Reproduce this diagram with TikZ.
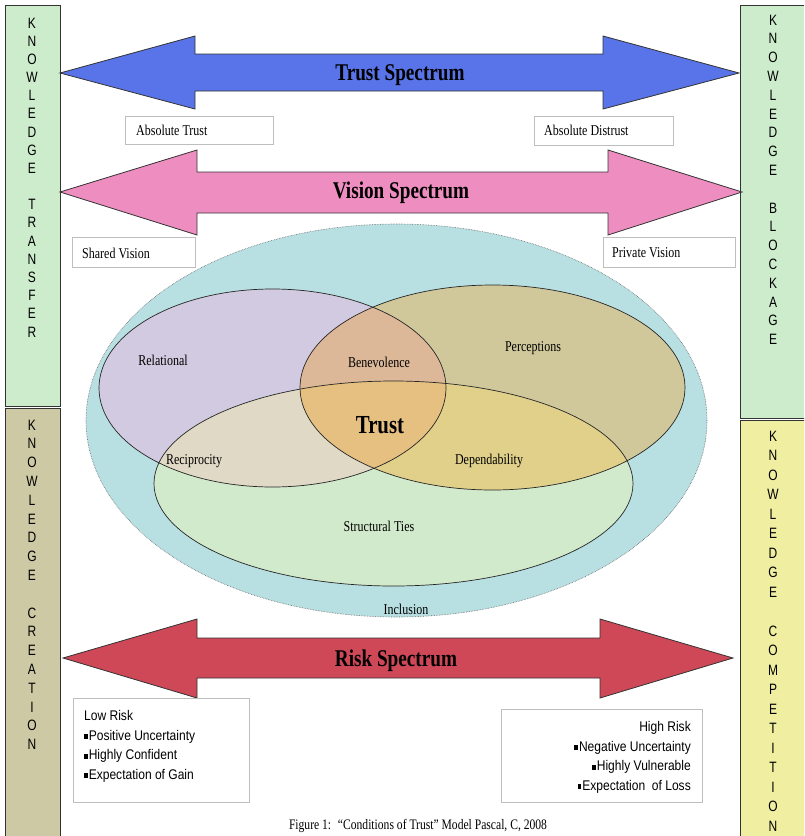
\documentclass[tikz,border=0pt]{standalone}
\usepackage{fontspec}
\newfontfamily\serifc[FakeStretch=0.8]{Liberation Serif}
\newfontfamily\sansc[FakeStretch=0.8]{Liberation Sans}
\newfontfamily\sansr[FakeStretch=0.86]{Liberation Sans}
\definecolor{bargreen}{RGB}{204,236,204}
\definecolor{barkhaki}{RGB}{204,201,164}
\definecolor{baryellow}{RGB}{240,238,160}
\definecolor{arrblue}{RGB}{88,116,232}
\definecolor{arrpink}{RGB}{238,142,192}
\definecolor{arrred}{RGB}{206,72,88}
\definecolor{teal}{RGB}{184,224,226}
\definecolor{relc}{RGB}{210,202,224}
\definecolor{perc}{RGB}{208,200,154}
\definecolor{strc}{RGB}{210,234,204}
\definecolor{benc}{RGB}{221,184,152}
\definecolor{recc}{RGB}{223,217,197}
\definecolor{depc}{RGB}{224,208,138}
\definecolor{trustc}{RGB}{230,192,128}
\definecolor{boxgray}{RGB}{190,190,190}
\tikzset{
  sidebar/.style={draw=black!80, line width=0.8pt},
  sideletters/.style={anchor=north, inner sep=0pt, align=center, font=\sansc\fontsize{15}{#1}\selectfont},
  spectrum/.style={draw=black!80, line width=0.8pt},
  spectext/.style={font=\serifc\bfseries\fontsize{24}{26}\selectfont, inner sep=0pt},
  labelbox/.style={draw=boxgray, line width=0.6pt, fill=white},
  boxtext/.style={font=\serifc\fontsize{15}{18}\selectfont, inner sep=0pt, anchor=west},
  venntext/.style={font=\serifc\fontsize{15}{18}\selectfont, inner sep=0pt},
  riskbox/.style={draw=boxgray, line width=0.6pt, fill=white},
  risktext/.style={font=\sansr\fontsize{14}{19.7}\selectfont, inner sep=0pt},
  vennline/.style={draw=black!85, line width=0.7pt}
}
\newcommand{\blt}{\rule[1pt]{3.6pt}{5pt}\kern1pt}
\begin{document}
\begin{tikzpicture}[x=1pt,y=-1pt]
\useasboundingbox (0,0) rectangle (804,836);
\clip (0,0) rectangle (804,836);
\fill[white] (0,0) rectangle (804,836);

% side bars
\draw[sidebar, fill=bargreen] (5,5) rectangle (60,406);
\draw[sidebar, fill=barkhaki] (5,408) rectangle (60,845);
\draw[sidebar, fill=bargreen] (740,5) rectangle (815,418);
\draw[sidebar, fill=baryellow] (740,420) rectangle (815,845);

\node[sideletters=18.17] (kt) at (32,17.6) {K\\N\\O\\W\\L\\E\\D\\G\\E\\\mbox{}\\T\\R\\A\\N\\S\\F\\E\\R};
\node[sideletters=18.8] (kc) at (32,419.6) {K\\N\\O\\W\\L\\E\\D\\G\\E\\\mbox{}\\C\\R\\E\\A\\T\\I\\O\\N};
\node[sideletters=18.8] (kb) at (773,14.6) {K\\N\\O\\W\\L\\E\\D\\G\\E\\\mbox{}\\B\\L\\O\\C\\K\\A\\G\\E};
\node[sideletters=19.5] (kx) at (773,430.6) {K\\N\\O\\W\\L\\E\\D\\G\\E\\\mbox{}\\C\\O\\M\\P\\E\\T\\I\\T\\I\\O\\N};

% spectrum arrows
\draw[spectrum, fill=arrblue] (60,73) -- (195,36) -- (195,54) -- (603,54) -- (603,36) -- (739,73) -- (603,109) -- (603,91) -- (195,91) -- (195,109) -- cycle;
\node[spectext] (ts) at (400,75) {Trust Spectrum};
\draw[spectrum, fill=arrpink] (60,192) -- (197,150) -- (197,172) -- (608,172) -- (608,150) -- (742,192) -- (608,235) -- (608,213) -- (197,213) -- (197,235) -- cycle;
\node[spectext] (vs) at (401,193) {Vision Spectrum};
\draw[spectrum, fill=arrred] (63,658) -- (197,619) -- (197,638) -- (600,638) -- (600,619) -- (733,658) -- (600,698) -- (600,678) -- (197,678) -- (197,698) -- cycle;
\node[spectext] (rs) at (396,661) {Risk Spectrum};

% label boxes
\draw[labelbox] (125,116) rectangle (273,144);
\node[boxtext] (at) at (136,130) {Absolute Trust};
\draw[labelbox] (534,116) rectangle (673,145);
\node[boxtext] (ad) at (544,130) {Absolute Distrust};
\draw[labelbox] (72,237) rectangle (195,267);
\node[boxtext] (sv) at (82,253) {Shared Vision};
\draw[labelbox] (603,237) rectangle (735,267);
\node[boxtext] (pv) at (612,253) {Private Vision};

% outer inclusion ellipse
\draw[draw=black!60, densely dotted, fill=teal, line width=0.6pt] (396.5,420.5) ellipse [x radius=310.5, y radius=196.5];
\node[venntext] (incl) at (406,609) {Inclusion};

% three ellipses
\def\rel{(272.5,388) ellipse [x radius=173.5, y radius=99]}
\def\per{(492.5,387.5) ellipse [x radius=192.5, y radius=102.5]}
\def\str{(393.5,483.5) ellipse [x radius=239.5, y radius=102.5]}
\fill[relc] \rel;
\fill[perc] \per;
\fill[strc] \str;
\begin{scope}\clip \rel; \fill[benc] \per; \end{scope}
\begin{scope}\clip \rel; \fill[recc] \str; \end{scope}
\begin{scope}\clip \per; \fill[depc] \str; \end{scope}
\begin{scope}\clip \rel; \clip \per; \fill[trustc] \str; \end{scope}
\draw[vennline] \rel;
\draw[vennline] \per;
\draw[vennline] \str;

\node[venntext] (relt) at (163,360) {Relational};
\node[venntext] (bent) at (379,362) {Benevolence};
\node[venntext] (pert) at (533,348) {Perceptions};
\node[font=\serifc\bfseries\fontsize{26}{28}\selectfont, inner sep=0pt] (trust) at (380,425) {Trust};
\node[venntext] (rect) at (194,461) {Reciprocity};
\node[venntext] (dept) at (489,461) {Dependability};
\node[venntext] (strt) at (379,526) {Structural Ties};

% risk boxes
\draw[riskbox] (73,698) rectangle (249,802);
\node[risktext, anchor=north west, align=left] (low) at (84,710) {Low Risk\\\blt Positive Uncertainty\\\blt Highly Confident\\\blt Expectation of Gain};
\draw[riskbox] (501,709) rectangle (702,802);
\node[risktext, anchor=north east, align=right] (high) at (691,721) {High Risk\\\blt Negative Uncertainty\\\blt Highly Vulnerable\\\blt Expectation~ of Loss};

% caption
\node[font=\serifc\fontsize{14.5}{16}\selectfont, inner sep=0pt] (cap) at (418,826) {Figure 1:~ “Conditions of Trust” Model Pascal, C, 2008};
\end{tikzpicture}
\end{document}
